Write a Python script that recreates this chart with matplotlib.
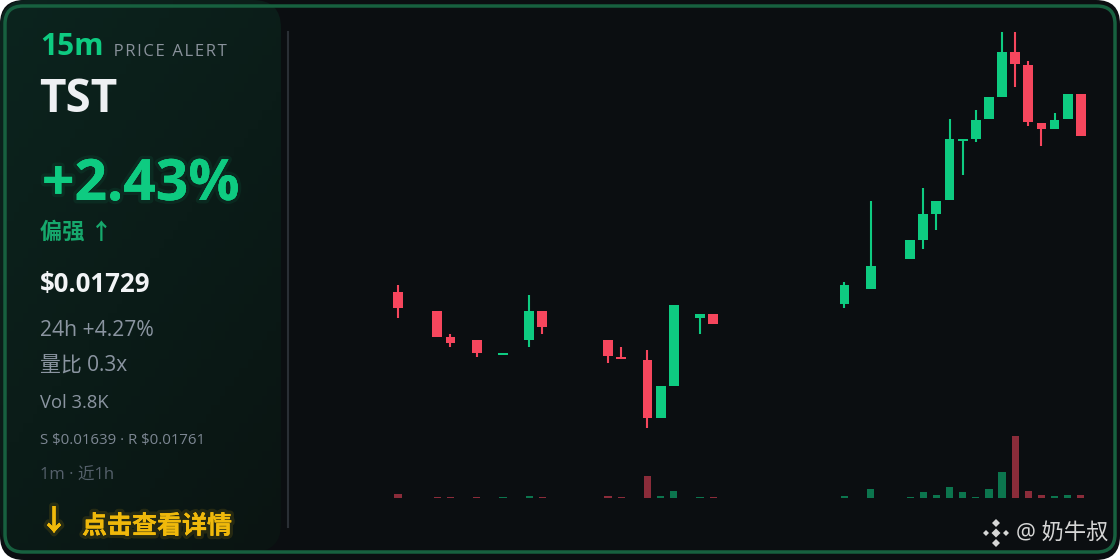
import numpy as np
import matplotlib.pyplot as plt
from matplotlib.patches import FancyBboxPatch, Polygon
import matplotlib.patheffects as pe

plt.rcParams['font.family'] = ['Open Sans', 'Noto Sans CJK SC', 'DejaVu Sans']

# 1m candles, minute index inside the last hour (gaps = no trades)
minute = [0, 3, 4, 6, 8, 10, 11, 16, 17, 19, 20, 21, 23, 24, 34, 36,
          39, 40, 41, 42, 43, 44, 45, 46, 47, 48, 49, 50, 51, 52]
open_ = [0.016807, 0.016748, 0.016668, 0.016659, 0.016612, 0.016659, 0.016748, 0.016659,
         0.016606, 0.016597, 0.016418, 0.016517, 0.016727, 0.016739, 0.016770, 0.016816,
         0.016909, 0.016968, 0.017048, 0.017091, 0.017273, 0.017280, 0.017341, 0.017409,
         0.017548, 0.017508, 0.017329, 0.017310, 0.017341, 0.017419]
high = [0.016829, 0.016748, 0.016677, 0.016659, 0.016619, 0.016798, 0.016748, 0.016659,
        0.016637, 0.016628, 0.016517, 0.016767, 0.016739, 0.016739, 0.016838, 0.017088,
        0.016968, 0.017128, 0.017088, 0.017341, 0.017280, 0.017369, 0.017409, 0.017610,
        0.017610, 0.017520, 0.017329, 0.017360, 0.017419, 0.017419]
low = [0.016727, 0.016668, 0.016637, 0.016606, 0.016612, 0.016637, 0.016677, 0.016588,
       0.016600, 0.016387, 0.016418, 0.016517, 0.016677, 0.016708, 0.016758, 0.016816,
       0.016909, 0.016940, 0.016998, 0.017091, 0.017168, 0.017270, 0.017341, 0.017409,
       0.017440, 0.017320, 0.017258, 0.017310, 0.017341, 0.017290]
close = [0.016758, 0.016668, 0.016649, 0.016619, 0.016619, 0.016748, 0.016699, 0.016609,
         0.016600, 0.016418, 0.016517, 0.016767, 0.016739, 0.016708, 0.016829, 0.016887,
         0.016968, 0.017048, 0.017088, 0.017280, 0.017280, 0.017338, 0.017409, 0.017548,
         0.017511, 0.017332, 0.017310, 0.017338, 0.017419, 0.017290]
volume = [74, 15, 12, 14, 10, 34, 16, 32, 18, 434, 33, 140, 12, 16, 32, 172,
          14, 112, 46, 212, 112, 18, 172, 512, 1230, 132, 46, 40, 60, 54]

UP = '#0ecb81'
DOWN = '#f6465d'

fig = plt.figure(figsize=(11.2, 5.6), dpi=100, facecolor='white')

# background layer in pixel coordinates
bg = fig.add_axes([0, 0, 1, 1])
bg.set_xlim(0, 1120)
bg.set_ylim(560, 0)
bg.axis('off')

card = FancyBboxPatch((0, 0), 1120, 560, boxstyle='round,pad=0,rounding_size=24',
                      facecolor='#0b0e11', edgecolor='none')
bg.add_patch(card)

panel = FancyBboxPatch((0, 0), 281, 552, boxstyle='round,pad=0,rounding_size=28',
                       facecolor='none', edgecolor='none')
bg.add_patch(panel)
gx, gy = np.meshgrid(np.linspace(0, 1, 60), np.linspace(0, 1, 60))
g = 0.6 * gy + 0.4 * gx
c0 = np.array([12, 36, 30]) / 255
c1 = np.array([10, 20, 18]) / 255
grad = c0[None, None, :] * (1 - g[..., None]) + c1[None, None, :] * g[..., None]
im = bg.imshow(grad, extent=(0, 281, 552, 0), aspect='auto', zorder=1)
im.set_clip_path(panel)

border = FancyBboxPatch((5, 6), 1110, 546, boxstyle='round,pad=0,rounding_size=18',
                        facecolor='none', edgecolor='#17603f', linewidth=2.5, zorder=5)
bg.add_patch(border)
bg.plot([288, 288], [32, 527], color='#2a2f35', lw=1.5, zorder=2)

# left panel text
bg.text(40, 55, '15m', color=UP, fontsize=21.5, fontweight='bold', zorder=3)
bg.text(112, 56, '\u200aP\u200aR\u200aI\u200aC\u200aE\u200a \u200aA\u200aL\u200aE\u200aR\u200aT',
        color='#8a929c', fontsize=12, zorder=3)
bg.text(39, 112, 'TST', color='#eef0f3', fontsize=33, fontweight='bold', zorder=3)
bg.text(42, 200, '+2.43%', color=UP, fontsize=41, fontweight='bold', zorder=3,
        path_effects=[pe.withStroke(linewidth=5, foreground=(0.05, 0.8, 0.5, 0.08)),
                      pe.Normal()])
bg.text(40, 233, '偏强 ↑', color='#16a86c', fontsize=16, fontweight='bold', va='center', zorder=3)
bg.text(40, 292, '$0.01729', color='#f2f4f6', fontsize=18.5, fontweight='bold', zorder=3)
bg.text(40, 336, '24h +4.27%', color='#8b95a1', fontsize=15.2, zorder=3)
bg.text(40, 366, '量比 0.3x', color='#8b95a1', fontsize=15, va='center', zorder=3)
bg.text(40, 408, 'Vol 3.8K', color='#8b95a1', fontsize=13.2, zorder=3)
bg.text(40, 444, r'S \$0.01639 · R \$0.01761', color='#7d8793', fontsize=10.8, zorder=3)
bg.text(40, 476, '1m · 近1h', color='#55606b', fontsize=12, va='center', zorder=3)
glow = [pe.withStroke(linewidth=5, foreground=(0.95, 0.73, 0.05, 0.12)), pe.Normal()]
bg.text(54, 523, '↓', color='#f0b90b', fontsize=21, fontweight='bold', ha='center',
        va='center', zorder=3, path_effects=glow)
bg.text(82, 527, '点击查看详情', color='#f0b90b', fontsize=18, fontweight='bold',
        va='center', zorder=3, path_effects=glow)

# watermark
lc = '#d6d6d6'
def diamond(cx, cy, r):
    return Polygon([(cx, cy - r), (cx + r, cy), (cx, cy + r), (cx - r, cy)],
                   closed=True, facecolor=lc, edgecolor='none', zorder=3)
for cx, cy, r in [(996, 533, 4.5), (996, 523, 4), (996, 543, 4), (986, 533, 3), (1006, 533, 3)]:
    bg.add_patch(diamond(cx, cy, r))
bg.text(1016, 533, '@ 奶牛叔', color=lc, fontsize=16, va='center', zorder=3)

# candles
ax = fig.add_axes([300 / 1120, 120 / 560, 800 / 1120, 420 / 560])
ax.set_facecolor('none')
ax.axis('off')
lo, hi = min(low), max(high)
pp = (hi - lo) / 396
ax.set_ylim(lo - 12 * pp, hi + 12 * pp)
ax.set_xlim(-7.46, 53.46)
for m, o, h, l, c in zip(minute, open_, high, low, close):
    col = UP if c >= o else DOWN
    ax.vlines(m, l, h, color=col, lw=1.5)
    ax.bar(m, max(abs(c - o), 1.6 * pp), bottom=min(o, c), width=0.75, color=col)

# volume
vax = fig.add_axes([300 / 1120, 62.3 / 560, 800 / 1120, 80 / 560])
vax.set_facecolor('none')
vax.axis('off')
vax.set_xlim(-7.46, 53.46)
vax.set_ylim(0, max(volume) * 80 / 61.7)
vcol = [UP if c >= o else DOWN for o, c in zip(open_, close)]
vax.bar(minute, volume, width=0.55, color=vcol, alpha=0.55)

fig.savefig('out.png', dpi=100, facecolor='white')
